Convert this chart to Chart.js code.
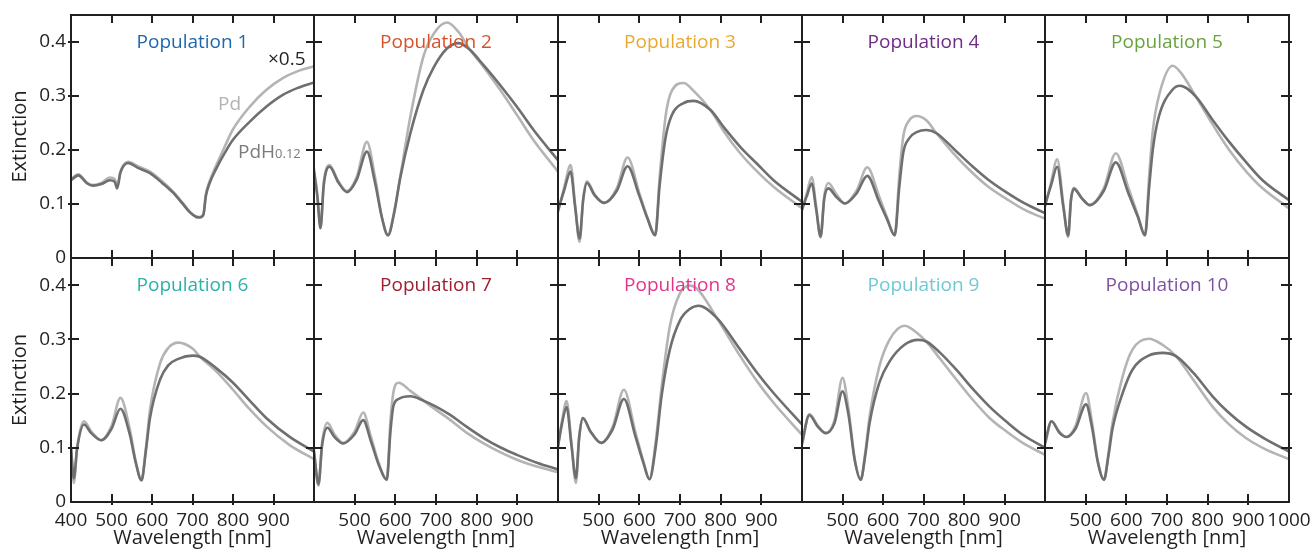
<!DOCTYPE html>
<html><head><meta charset="utf-8">
<script src="https://cdn.jsdelivr.net/npm/chart.js@4.4.1/dist/chart.umd.min.js"></script>
<style>
html,body{margin:0;padding:0;background:#fff;}
#wrap{position:relative;width:1315px;height:552px;overflow:hidden;background:#fff;}
#wrap canvas{position:absolute;}
</style></head><body><div id="wrap"></div>
<script>
// ---- data ----
const populations = ['Population 1','Population 2','Population 3','Population 4','Population 5',
                     'Population 6','Population 7','Population 8','Population 9','Population 10'];
const titleColors = ['#1f67ad','#d5532b','#eaa92e','#6f2b85','#69a43c',
                     '#2bb2a7','#9d1f31','#e2358a','#6fc8d3','#7c52a0'];
const xTickValues = [400,500,600,700,800,900,1000];
const yTickValues = [0,0.1,0.2,0.3,0.4];

const wavelength1 = [400,418,440,454,475,496,508,514,522,541,565,595,625,652,675,693,709,718,727,733,742,759,780,799,841,882,923,960,1000];
const pd1  = [0.146,0.155,0.139,0.135,0.139,0.149,0.146,0.132,0.160,0.178,0.170,0.160,0.142,0.123,0.103,0.086,0.077,0.076,0.082,0.118,0.142,0.172,0.207,0.237,0.280,0.311,0.333,0.346,0.355];
const pdh1 = [0.144,0.153,0.138,0.134,0.137,0.144,0.141,0.129,0.158,0.176,0.167,0.157,0.139,0.121,0.101,0.085,0.076,0.075,0.080,0.115,0.138,0.166,0.195,0.218,0.252,0.280,0.302,0.315,0.325];

const wavelength2 = [400,408,416,424,438,460,481,505,530,550,567,582,597,612,637,669,695,727,756,784,817,858,899,940,1000];
const pd2  = [0.165,0.120,0.060,0.140,0.172,0.142,0.124,0.150,0.215,0.150,0.075,0.042,0.085,0.150,0.262,0.373,0.416,0.436,0.418,0.385,0.354,0.311,0.265,0.218,0.160];
const pdh2 = [0.160,0.115,0.055,0.135,0.169,0.140,0.122,0.145,0.197,0.140,0.075,0.042,0.083,0.148,0.231,0.311,0.354,0.388,0.398,0.385,0.357,0.320,0.280,0.237,0.181];

const wavelength3 = [400,415,431,442,453,462,471,490,513,545,571,600,620,639,650,665,680,709,733,775,810,848,890,930,1000];
const pd3  = [0.085,0.130,0.172,0.100,0.030,0.110,0.142,0.118,0.102,0.130,0.186,0.120,0.075,0.042,0.150,0.265,0.310,0.324,0.310,0.274,0.232,0.194,0.160,0.132,0.092];
const pdh3 = [0.088,0.125,0.160,0.095,0.036,0.108,0.139,0.116,0.102,0.125,0.170,0.115,0.073,0.042,0.135,0.225,0.265,0.287,0.291,0.274,0.240,0.206,0.174,0.144,0.104];

const wavelength4 = [400,412,424,435,446,455,465,485,506,535,561,590,610,629,640,650,665,683,707,732,775,822,860,904,950,1000];
const pd4  = [0.088,0.120,0.150,0.095,0.038,0.115,0.139,0.118,0.101,0.125,0.168,0.115,0.075,0.042,0.150,0.225,0.255,0.263,0.255,0.231,0.193,0.157,0.132,0.110,0.089,0.073];
const pdh4 = [0.090,0.115,0.138,0.090,0.040,0.110,0.129,0.113,0.101,0.120,0.152,0.105,0.072,0.042,0.130,0.195,0.222,0.233,0.237,0.231,0.202,0.169,0.145,0.122,0.101,0.083];

const wavelength5 = [400,415,430,445,457,464,471,490,510,545,574,605,628,646,656,665,680,714,732,771,810,853,895,935,1000];
const pd5  = [0.095,0.140,0.183,0.100,0.039,0.110,0.130,0.112,0.098,0.130,0.194,0.130,0.080,0.042,0.150,0.235,0.300,0.356,0.345,0.299,0.250,0.200,0.160,0.129,0.092];
const pdh5 = [0.098,0.135,0.169,0.095,0.042,0.108,0.128,0.111,0.098,0.125,0.177,0.120,0.077,0.042,0.130,0.200,0.262,0.312,0.319,0.299,0.258,0.215,0.177,0.144,0.107];

const wavelength6 = [400,407,415,432,450,475,500,522,545,560,574,585,595,620,640,665,700,718,760,800,840,882,940,1000];
const pd6  = [0.100,0.035,0.100,0.149,0.130,0.114,0.140,0.192,0.135,0.075,0.040,0.100,0.170,0.256,0.284,0.294,0.283,0.268,0.240,0.207,0.172,0.140,0.105,0.079];
const pdh6 = [0.100,0.044,0.098,0.143,0.127,0.114,0.135,0.172,0.125,0.072,0.040,0.095,0.155,0.226,0.252,0.264,0.270,0.268,0.246,0.220,0.188,0.155,0.120,0.093];

const wavelength7 = [400,411,420,433,450,472,500,521,540,560,579,588,595,608,637,669,700,734,775,817,860,899,950,1000];
const pd7  = [0.095,0.030,0.110,0.146,0.125,0.109,0.130,0.165,0.120,0.070,0.041,0.150,0.201,0.220,0.205,0.187,0.170,0.152,0.128,0.108,0.091,0.078,0.065,0.055];
const pdh7 = [0.092,0.033,0.105,0.137,0.120,0.108,0.125,0.151,0.112,0.067,0.041,0.130,0.176,0.190,0.195,0.187,0.176,0.161,0.139,0.118,0.100,0.087,0.072,0.060];

const wavelength8 = [400,410,421,433,444,452,461,480,506,535,562,590,610,625,640,655,675,700,724,746,790,848,890,930,1000];
const pd8  = [0.103,0.150,0.186,0.110,0.035,0.120,0.155,0.130,0.109,0.140,0.207,0.130,0.075,0.042,0.110,0.213,0.324,0.385,0.399,0.390,0.340,0.269,0.222,0.183,0.124];
const pdh8 = [0.103,0.145,0.175,0.105,0.044,0.118,0.155,0.130,0.109,0.135,0.190,0.122,0.072,0.042,0.100,0.197,0.281,0.335,0.356,0.362,0.340,0.281,0.238,0.201,0.143];

const wavelength9 = [400,418,440,459,480,500,515,530,545,556,567,591,616,653,687,707,740,781,820,863,905,945,1000];
const pd9  = [0.105,0.162,0.140,0.127,0.150,0.229,0.170,0.080,0.041,0.090,0.158,0.250,0.299,0.325,0.310,0.296,0.265,0.226,0.190,0.155,0.130,0.109,0.087];
const pdh9 = [0.109,0.160,0.138,0.127,0.145,0.204,0.160,0.078,0.041,0.085,0.146,0.220,0.259,0.290,0.299,0.296,0.276,0.244,0.210,0.176,0.148,0.124,0.100];

const wavelength10 = [400,416,435,453,475,501,515,530,545,556,566,591,615,655,689,722,765,812,850,894,940,1000];
const pd10  = [0.105,0.149,0.130,0.120,0.140,0.201,0.150,0.075,0.041,0.090,0.146,0.232,0.281,0.301,0.290,0.269,0.225,0.176,0.145,0.118,0.098,0.079];
const pdh10 = [0.109,0.149,0.128,0.120,0.135,0.180,0.140,0.073,0.041,0.085,0.135,0.201,0.244,0.270,0.275,0.269,0.238,0.195,0.166,0.139,0.117,0.093];

const wavelengths = [wavelength1,wavelength2,wavelength3,wavelength4,wavelength5,wavelength6,wavelength7,wavelength8,wavelength9,wavelength10];
const pdSeries  = [pd1,pd2,pd3,pd4,pd5,pd6,pd7,pd8,pd9,pd10];
const pdhSeries = [pdh1,pdh2,pdh3,pdh4,pdh5,pdh6,pdh7,pdh8,pdh9,pdh10];

// ---- layout ----
const FONT = "'Open Sans', 'Noto Sans', sans-serif";
const INK = '#231f20';
const colEdges = [71, 314, 558, 802, 1045, 1289];
const rowEdges = [15, 258, 502];
Chart.defaults.font.family = FONT;
Chart.defaults.color = INK;

const framePlugin = {
  id: 'frame',
  afterDraw(chart, args, opts) {
    const {ctx, chartArea: {left, top, right, bottom}, scales: {x, y}} = chart;
    ctx.save();
    ctx.strokeStyle = INK;
    ctx.lineWidth = 2;
    ctx.strokeRect(left, top, right - left, bottom - top);
    ctx.beginPath();
    const outTop = opts.row === 0 ? 0 : 3;
    xTickValues.forEach(v => {
      if (v <= 400 || v >= 1000) return;
      const px = Math.round(x.getPixelForValue(v));
      ctx.moveTo(px, top - outTop); ctx.lineTo(px, top + 8);
      ctx.moveTo(px, bottom + 3); ctx.lineTo(px, bottom - 8);
    });
    yTickValues.forEach(v => {
      if (v <= 0) return;
      const py = Math.round(y.getPixelForValue(v));
      ctx.moveTo(left - 3, py); ctx.lineTo(left + 8, py);
      ctx.moveTo(right + 3, py); ctx.lineTo(right - 8, py);
    });
    ctx.stroke();
    // panel title
    ctx.font = '19px ' + FONT;
    ctx.textAlign = 'center';
    ctx.textBaseline = 'alphabetic';
    ctx.fillStyle = opts.color;
    ctx.fillText(opts.title, (left + right) / 2, top + 33);
    if (opts.annotate) {
      ctx.textAlign = 'left';
      ctx.fillStyle = INK;
      ctx.fillText('\u00d70.5', left + 197, top + 50);
      ctx.fillStyle = '#b3b3b3';
      ctx.fillText('Pd', left + 147, top + 95);
      ctx.fillStyle = '#7b7b7b';
      ctx.fillText('PdH', left + 167, top + 143);
      const w = ctx.measureText('PdH').width;
      ctx.font = '13px ' + FONT;
      ctx.fillText('0.12', left + 167 + w, top + 143);
    }
    ctx.restore();
  }
};

const wrap = document.getElementById('wrap');
for (let p = 0; p < 10; p++) {
  const r = Math.floor(p / 5), c = p % 5;
  const left = colEdges[c], right = colEdges[c + 1];
  const top = rowEdges[r], bottom = rowEdges[r + 1];
  const padL = c === 0 ? 71 : 15;
  const padR = c === 4 ? 26 : 15;
  const padT = 15;
  const padB = r === 1 ? 552 - 502 : 15;
  const cv = document.createElement('canvas');
  const W = right - left + padL + padR, H = bottom - top + padT + padB;
  cv.width = W; cv.height = H;
  cv.style.width = W + 'px'; cv.style.height = H + 'px';
  cv.style.left = (left - padL) + 'px';
  cv.style.top = (top - padT) + 'px';
  wrap.appendChild(cv);
  const wl = wavelengths[p];
  const xLabelled = v => {
    if (c === 0) return v <= 900;
    if (c === 4) return v >= 500;
    return v >= 500 && v <= 900;
  };
  new Chart(cv, {
    type: 'line',
    data: {
      datasets: [
        { label: 'PdH0.12', data: wl.map((x, i) => ({x, y: pdhSeries[p][i]})),
          borderColor: '#6f6f6f', borderWidth: 2.6, pointRadius: 0, fill: false,
          cubicInterpolationMode: 'monotone', borderCapStyle: 'round', borderJoinStyle: 'round', order: 1 },
        { label: 'Pd', data: wl.map((x, i) => ({x, y: pdSeries[p][i]})),
          borderColor: '#b4b4b4', borderWidth: 2.6, pointRadius: 0, fill: false,
          cubicInterpolationMode: 'monotone', borderCapStyle: 'round', borderJoinStyle: 'round', order: 2 }
      ]
    },
    options: {
      responsive: false, animation: false, devicePixelRatio: 1,
      events: [],
      layout: { padding: { top: padT, right: padR, left: 0, bottom: 0 } },
      plugins: {
        legend: { display: false }, tooltip: { enabled: false }, title: { display: false },
        frame: { title: populations[p], color: titleColors[p], annotate: p === 0, row: r }
      },
      scales: {
        x: {
          type: 'linear', min: 400, max: 1000, position: 'bottom',
          grid: { display: false, drawTicks: false }, border: { display: false },
          ticks: { display: r === 1, stepSize: 100, autoSkip: false, maxRotation: 0, minRotation: 0,
                   padding: 7, color: INK, font: { size: 19 },
                   callback: v => xLabelled(v) ? String(v) : '' },
          title: { display: r === 1, text: 'Wavelength [nm]', color: INK, font: { size: 20 },
                   padding: { top: 0, bottom: 2 } },
          afterFit: s => { s.height = padB; s.paddingLeft = 0; s.paddingRight = 0; s.paddingTop = 0; s.paddingBottom = 0; }
        },
        y: {
          type: 'linear', min: 0, max: 0.45, position: 'left',
          grid: { display: false, drawTicks: false }, border: { display: false },
          ticks: { display: c === 0, stepSize: 0.1, includeBounds: false, padding: 5, color: INK,
                   font: { size: 19 }, callback: v => v === 0 ? '0' : Number(v).toFixed(1) },
          title: { display: c === 0, text: 'Extinction', color: INK, font: { size: 20 },
                   padding: { top: 8, bottom: 0 } },
          afterFit: s => { s.width = padL; s.paddingLeft = 0; s.paddingRight = 0; s.paddingTop = 0; s.paddingBottom = 0; }
        }
      }
    },
    plugins: [framePlugin]
  });
}
</script>
</body></html>
